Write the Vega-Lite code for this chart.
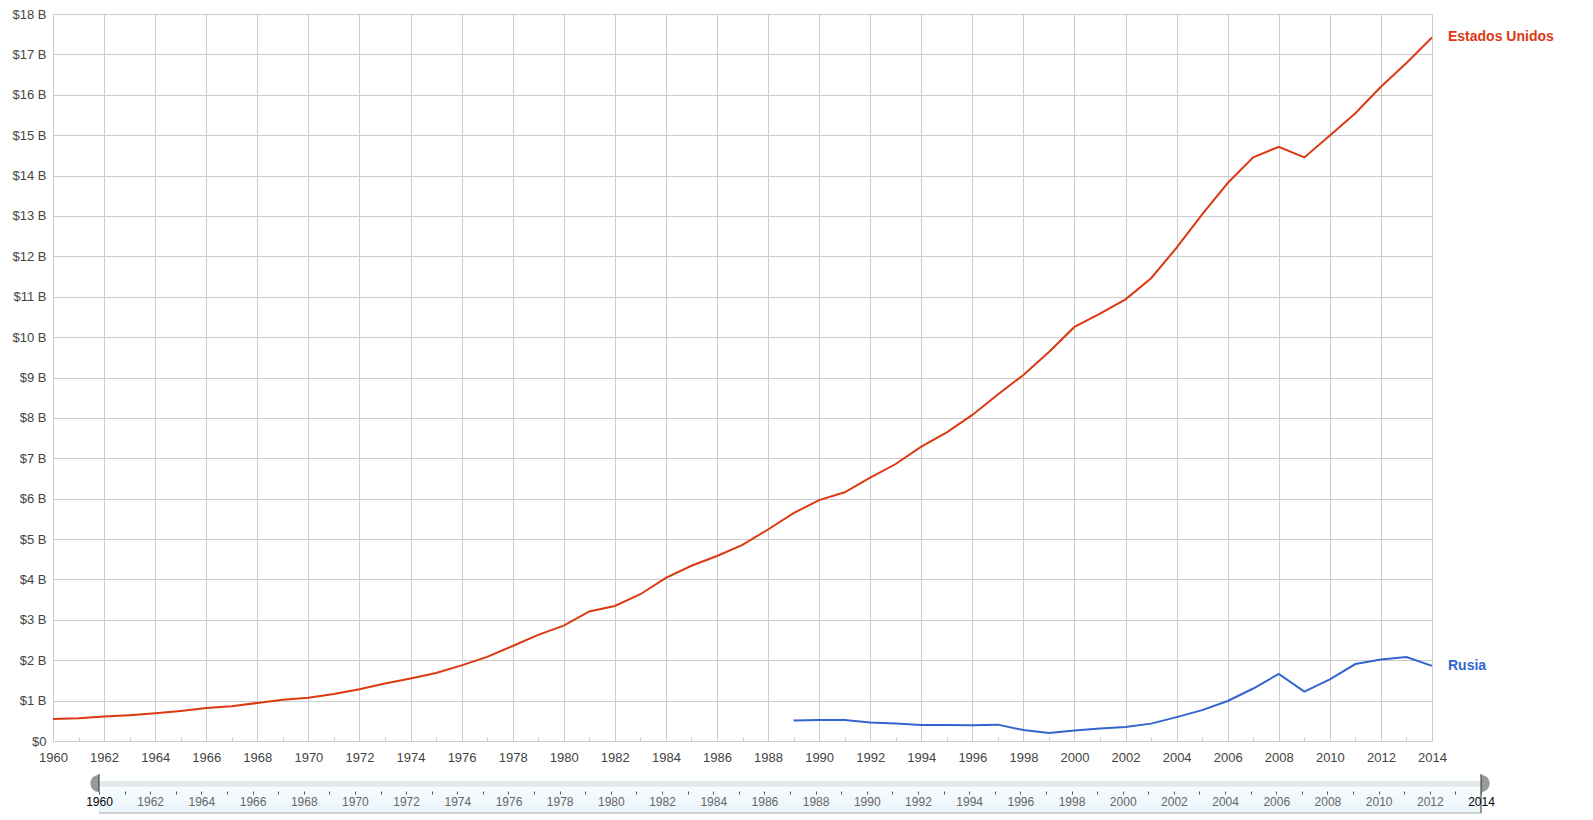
{
  "$schema": "https://vega.github.io/schema/vega-lite/v6.json",
  "padding": {"left": 12, "top": 8, "right": 0, "bottom": 0},
  "background": "white",
  "config": {"view": {"stroke": null}, "font": "Liberation Sans"},
  "spacing": 9,
  "datasets": {
    "gdp": [
      {"country": "Estados Unidos", "year": 1960, "gdp": 0.543},
      {"country": "Estados Unidos", "year": 1961, "gdp": 0.563},
      {"country": "Estados Unidos", "year": 1962, "gdp": 0.605},
      {"country": "Estados Unidos", "year": 1963, "gdp": 0.639},
      {"country": "Estados Unidos", "year": 1964, "gdp": 0.686},
      {"country": "Estados Unidos", "year": 1965, "gdp": 0.744},
      {"country": "Estados Unidos", "year": 1966, "gdp": 0.815},
      {"country": "Estados Unidos", "year": 1967, "gdp": 0.862},
      {"country": "Estados Unidos", "year": 1968, "gdp": 0.942},
      {"country": "Estados Unidos", "year": 1969, "gdp": 1.020},
      {"country": "Estados Unidos", "year": 1970, "gdp": 1.073},
      {"country": "Estados Unidos", "year": 1971, "gdp": 1.165},
      {"country": "Estados Unidos", "year": 1972, "gdp": 1.280},
      {"country": "Estados Unidos", "year": 1973, "gdp": 1.425},
      {"country": "Estados Unidos", "year": 1974, "gdp": 1.545},
      {"country": "Estados Unidos", "year": 1975, "gdp": 1.684},
      {"country": "Estados Unidos", "year": 1976, "gdp": 1.873},
      {"country": "Estados Unidos", "year": 1977, "gdp": 2.082},
      {"country": "Estados Unidos", "year": 1978, "gdp": 2.352},
      {"country": "Estados Unidos", "year": 1979, "gdp": 2.627},
      {"country": "Estados Unidos", "year": 1980, "gdp": 2.857},
      {"country": "Estados Unidos", "year": 1981, "gdp": 3.207},
      {"country": "Estados Unidos", "year": 1982, "gdp": 3.343},
      {"country": "Estados Unidos", "year": 1983, "gdp": 3.634},
      {"country": "Estados Unidos", "year": 1984, "gdp": 4.037},
      {"country": "Estados Unidos", "year": 1985, "gdp": 4.339},
      {"country": "Estados Unidos", "year": 1986, "gdp": 4.580},
      {"country": "Estados Unidos", "year": 1987, "gdp": 4.855},
      {"country": "Estados Unidos", "year": 1988, "gdp": 5.236},
      {"country": "Estados Unidos", "year": 1989, "gdp": 5.642},
      {"country": "Estados Unidos", "year": 1990, "gdp": 5.963},
      {"country": "Estados Unidos", "year": 1991, "gdp": 6.158},
      {"country": "Estados Unidos", "year": 1992, "gdp": 6.520},
      {"country": "Estados Unidos", "year": 1993, "gdp": 6.858},
      {"country": "Estados Unidos", "year": 1994, "gdp": 7.287},
      {"country": "Estados Unidos", "year": 1995, "gdp": 7.640},
      {"country": "Estados Unidos", "year": 1996, "gdp": 8.073},
      {"country": "Estados Unidos", "year": 1997, "gdp": 8.578},
      {"country": "Estados Unidos", "year": 1998, "gdp": 9.063},
      {"country": "Estados Unidos", "year": 1999, "gdp": 9.631},
      {"country": "Estados Unidos", "year": 2000, "gdp": 10.252},
      {"country": "Estados Unidos", "year": 2001, "gdp": 10.582},
      {"country": "Estados Unidos", "year": 2002, "gdp": 10.936},
      {"country": "Estados Unidos", "year": 2003, "gdp": 11.458},
      {"country": "Estados Unidos", "year": 2004, "gdp": 12.214},
      {"country": "Estados Unidos", "year": 2005, "gdp": 13.037},
      {"country": "Estados Unidos", "year": 2006, "gdp": 13.815},
      {"country": "Estados Unidos", "year": 2007, "gdp": 14.452},
      {"country": "Estados Unidos", "year": 2008, "gdp": 14.713},
      {"country": "Estados Unidos", "year": 2009, "gdp": 14.449},
      {"country": "Estados Unidos", "year": 2010, "gdp": 14.992},
      {"country": "Estados Unidos", "year": 2011, "gdp": 15.543},
      {"country": "Estados Unidos", "year": 2012, "gdp": 16.197},
      {"country": "Estados Unidos", "year": 2013, "gdp": 16.785},
      {"country": "Estados Unidos", "year": 2014, "gdp": 17.419},
      {"country": "Rusia", "year": 1989, "gdp": 0.506},
      {"country": "Rusia", "year": 1990, "gdp": 0.517},
      {"country": "Rusia", "year": 1991, "gdp": 0.518},
      {"country": "Rusia", "year": 1992, "gdp": 0.460},
      {"country": "Rusia", "year": 1993, "gdp": 0.435},
      {"country": "Rusia", "year": 1994, "gdp": 0.395},
      {"country": "Rusia", "year": 1995, "gdp": 0.395},
      {"country": "Rusia", "year": 1996, "gdp": 0.392},
      {"country": "Rusia", "year": 1997, "gdp": 0.405},
      {"country": "Rusia", "year": 1998, "gdp": 0.271},
      {"country": "Rusia", "year": 1999, "gdp": 0.196},
      {"country": "Rusia", "year": 2000, "gdp": 0.260},
      {"country": "Rusia", "year": 2001, "gdp": 0.307},
      {"country": "Rusia", "year": 2002, "gdp": 0.345},
      {"country": "Rusia", "year": 2003, "gdp": 0.430},
      {"country": "Rusia", "year": 2004, "gdp": 0.591},
      {"country": "Rusia", "year": 2005, "gdp": 0.764},
      {"country": "Rusia", "year": 2006, "gdp": 0.990},
      {"country": "Rusia", "year": 2007, "gdp": 1.300},
      {"country": "Rusia", "year": 2008, "gdp": 1.661},
      {"country": "Rusia", "year": 2009, "gdp": 1.223},
      {"country": "Rusia", "year": 2010, "gdp": 1.525},
      {"country": "Rusia", "year": 2011, "gdp": 1.905},
      {"country": "Rusia", "year": 2012, "gdp": 2.017},
      {"country": "Rusia", "year": 2013, "gdp": 2.079},
      {"country": "Rusia", "year": 2014, "gdp": 1.861}
    ],
    "range": [{"from": 1960, "to": 2014}]
  },
  "vconcat": [
    {
      "width": 1379,
      "height": 727,
      "data": {"name": "gdp"},
      "encoding": {
        "x": {
          "field": "year",
          "type": "quantitative",
          "scale": {"domain": [1960, 2014], "nice": false, "zero": false},
          "axis": {
            "title": null,
            "values": [1960,1961,1962,1963,1964,1965,1966,1967,1968,1969,1970,1971,1972,1973,1974,1975,1976,1977,1978,1979,1980,1981,1982,1983,1984,1985,1986,1987,1988,1989,1990,1991,1992,1993,1994,1995,1996,1997,1998,1999,2000,2001,2002,2003,2004,2005,2006,2007,2008,2009,2010,2011,2012,2013,2014],
            "labelExpr": "datum.value % 2 === 0 ? '' + datum.value : ''",
            "labelFontSize": 13,
            "labelColor": "#444444",
            "labelPadding": 14,
            "labelFlush": false,
            "labelOverlap": false,
            "domain": true,
            "domainColor": "#cccccc",
            "ticks": true,
            "tickSize": -4,
            "tickColor": "#cccccc",
            "grid": true,
            "gridColor": "#cccccc",
            "gridOpacity": {"condition": {"test": "datum.value % 2 === 0", "value": 1}, "value": 0}
          }
        },
        "y": {
          "field": "gdp",
          "type": "quantitative",
          "scale": {"domain": [0, 18], "nice": false},
          "axis": {
            "title": null,
            "values": [0,1,2,3,4,5,6,7,8,9,10,11,12,13,14,15,16,17,18],
            "labelExpr": "datum.value === 0 ? '$0' : '$' + datum.value + ' B'",
            "labelFontSize": 13,
            "labelColor": "#444444",
            "labelPadding": 7,
            "labelFlush": false,
            "labelOverlap": false,
            "domain": false,
            "ticks": false,
            "grid": true,
            "gridColor": "#cccccc"
          }
        },
        "color": {
          "field": "country",
          "type": "nominal",
          "scale": {"domain": ["Estados Unidos", "Rusia"], "range": ["#dc3912", "#3366cc"]},
          "legend": null
        }
      },
      "layer": [
        {"mark": {"type": "line", "strokeWidth": 2, "clip": false}},
        {
          "transform": [{"filter": "datum.year === 2014"}],
          "mark": {"type": "text", "align": "left", "baseline": "middle", "dx": 16, "fontWeight": "bold", "fontSize": 14},
          "encoding": {"text": {"field": "country"}}
        }
      ]
    },
    {
      "width": 1428,
      "height": 39,
      "data": {"name": "range"},
      "encoding": {
        "x": {
          "field": "from",
          "type": "quantitative",
          "scale": {"domain": [1960, 2014], "range": [46, 1428], "nice": false, "zero": false},
          "axis": {
            "title": null,
            "orient": "bottom",
            "offset": -22,
            "values": [1960,1961,1962,1963,1964,1965,1966,1967,1968,1969,1970,1971,1972,1973,1974,1975,1976,1977,1978,1979,1980,1981,1982,1983,1984,1985,1986,1987,1988,1989,1990,1991,1992,1993,1994,1995,1996,1997,1998,1999,2000,2001,2002,2003,2004,2005,2006,2007,2008,2009,2010,2011,2012,2013,2014],
            "labelExpr": "datum.value % 2 === 0 ? '' + datum.value : ''",
            "labelFontSize": 12,
            "labelColor": {"condition": {"test": "datum.value === 1960 || datum.value === 2014", "value": "#000000"}, "value": "#666666"},
            "labelPadding": 2,
            "labelFlush": false,
            "labelOverlap": false,
            "domain": false,
            "ticks": true,
            "tickSize": 3,
            "tickColor": "#555555",
            "grid": false,
            "zindex": 1
          }
        },
        "y": {
          "type": "quantitative",
          "scale": {"domain": [0, 1], "nice": false},
          "axis": null
        }
      },
      "layer": [
        {
          "mark": {"type": "point", "filled": true, "size": 300, "color": "#999999", "opacity": 1},
          "encoding": {"y": {"datum": 0.76}}
        },
        {
          "mark": {"type": "point", "filled": true, "size": 300, "color": "#999999", "opacity": 1},
          "encoding": {"x": {"field": "to", "type": "quantitative"}, "y": {"datum": 0.76}}
        },
        {
          "mark": {"type": "rect", "fill": {"gradient": "linear", "x1": 0, "y1": 0, "x2": 0, "y2": 1, "stops": [{"offset": 0, "color": "#ffffff"}, {"offset": 1, "color": "#e9f5fa"}]}},
          "encoding": {"x2": {"field": "to"}, "y": {"datum": 0}, "y2": {"datum": 1}}
        },
        {
          "mark": {"type": "rect", "fill": "#e3e8eb"},
          "encoding": {"x2": {"field": "to"}, "y": {"datum": 0.67}, "y2": {"datum": 0.82}}
        },
        {
          "mark": {"type": "rule", "color": "#aaaaaa"},
          "encoding": {"x2": {"field": "to"}, "y": {"datum": 0}}
        },
        {
          "mark": {"type": "rule", "color": "#333333"},
          "encoding": {"y": {"datum": 0.55}, "y2": {"datum": 1}}
        },
        {
          "mark": {"type": "rule", "color": "#333333"},
          "encoding": {"x": {"field": "to", "type": "quantitative"}, "y": {"datum": 0}, "y2": {"datum": 1}}
        }
      ]
    }
  ]
}
